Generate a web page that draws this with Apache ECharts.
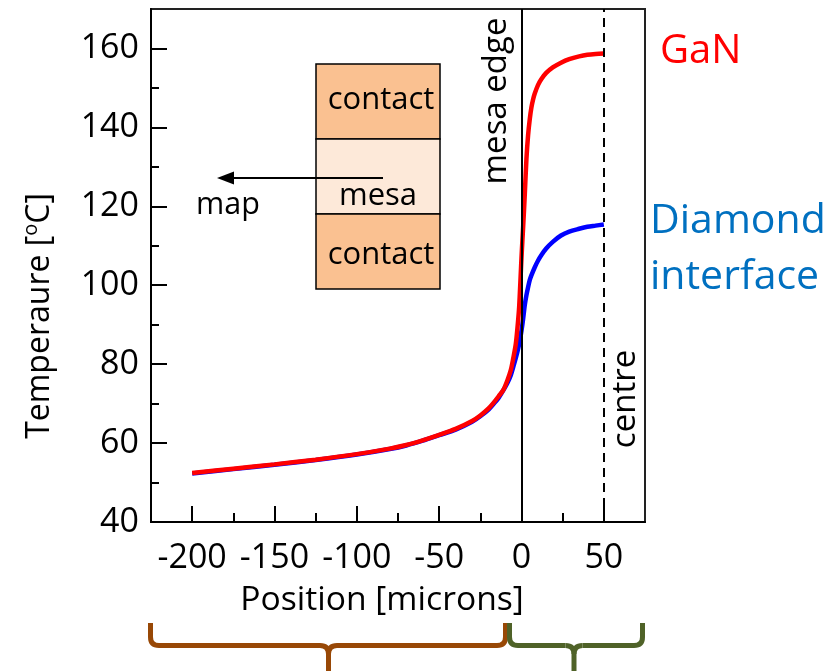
<!DOCTYPE html>
<html>
<head>
<meta charset="utf-8">
<script src="https://cdn.jsdelivr.net/npm/echarts@6/dist/echarts.min.js"></script>
<style>
  html, body { margin: 0; padding: 0; background: #fff; }
  #chart { width: 840px; height: 671px; }
</style>
</head>
<body>
<div id="chart"></div>
<script>
// Temperature profile across the mesa, from the contact region to the device centre
const posGaN = [-200, -175, -150, -125, -100, -80, -70, -60, -50, -40, -30, -25, -20, -17, -14, -11, -8.5, -6.5, -5, -3.5, -2.5, -1.5, -1, -0.5, 0, 0.5, 1, 1.5, 2, 3, 4, 5, 6, 7, 8, 10, 12, 15, 19, 24, 29, 35, 40, 45, 50];
const tempGaN = [52.4, 53.5, 54.6, 55.8, 57.2, 58.6, 59.5, 60.7, 62.1, 63.6, 65.6, 67.0, 68.8, 70.2, 71.8, 73.5, 76.0, 78.5, 81.5, 85.0, 89.0, 94.0, 98.0, 102.5, 107.0, 111.0, 114.8, 118.8, 123.0, 132.0, 138.0, 142.0, 145.0, 147.0, 148.5, 150.7, 152.2, 153.8, 155.2, 156.4, 157.3, 158.0, 158.4, 158.6, 158.7];

const posDiamond = [-200, -175, -150, -125, -100, -80, -70, -60, -50, -40, -30, -25, -20, -17, -14, -11, -8.5, -6.5, -5, -3.5, -2, -1, 0, 1, 2, 3, 4, 5, 6, 8, 10, 12, 15, 19, 24, 29, 35, 40, 45, 50];
const tempDiamond = [52.3, 53.4, 54.5, 55.7, 57.1, 58.5, 59.4, 60.6, 62.0, 63.4, 65.4, 66.8, 68.5, 69.9, 71.4, 73.4, 75.3, 77.2, 79.3, 81.5, 84.0, 86.0, 88.5, 91.5, 95.0, 97.5, 99.5, 101.3, 102.5, 104.5, 106.2, 107.6, 109.3, 111.0, 112.6, 113.6, 114.3, 114.8, 115.1, 115.4];

const xMajorTicks = [-200, -150, -100, -50, 0, 50];
const xMinorTicks = [-175, -125, -75, -25, 25];
const yMajorTicks = [40, 60, 80, 100, 120, 140, 160];
const yMinorTicks = [50, 70, 90, 110, 130, 150];
const mesaEdge = 0;
const centre = 50;

const FONT = '"Open Sans", Lato, sans-serif';

const zip = (xs, ys) => xs.map((x, i) => [x, ys[i]]);

const chart = echarts.init(document.getElementById('chart'), null, { renderer: 'canvas' });

const baseX = { type: 'value', min: -225, max: 75, position: 'bottom', splitLine: { show: false } };
const baseY = { type: 'value', min: 40, max: 170, position: 'left', splitLine: { show: false } };

// A curly brace opening upwards: arms at x0 and x1, point at xm
function brace(x0, xm, x1, color) {
  const top = 623, mid = 645.5, bottom = 671, r = 8.5;
  const st = { stroke: color, lineWidth: 5, fill: 'none', lineCap: 'butt' };
  const seg = (pts) => ({ type: 'polyline', shape: { points: pts }, style: st, z: 11 });
  const curve = (ax, ay, cx, cy, bx, by) => ({
    type: 'bezierCurve', shape: { x1: ax, y1: ay, cpx1: cx, cpy1: cy, x2: bx, y2: by }, style: st, z: 11
  });
  return [
    seg([[x0, top], [x0, mid - r]]),
    curve(x0, mid - r, x0, mid, x0 + r, mid),
    seg([[x0 + r, mid], [xm - r, mid]]),
    curve(xm - r, mid, xm, mid, xm, mid + r),
    seg([[xm, mid + r], [xm, bottom]]),
    curve(xm, mid + r, xm, mid, xm + r, mid),
    seg([[xm + r, mid], [x1 - r, mid]]),
    curve(x1 - r, mid, x1, mid, x1, mid - r),
    seg([[x1, mid - r], [x1, top]])
  ];
}

// Plain text element; opts may carry rotation, scaleX and alignment
function txt(x, y, text, size, color, opts) {
  opts = opts || {};
  return {
    type: 'text', x: x, y: y, z: 11,
    rotation: opts.rotation || 0,
    scaleX: opts.scaleX || 1,
    style: {
      text: text, font: size + 'px ' + FONT, fill: color,
      textAlign: opts.align || 'center', textVerticalAlign: 'middle'
    }
  };
}

const option = {
  backgroundColor: '#fff',
  animation: false,
  grid: {
    left: 151, right: 195, top: 9, bottom: 149,
    show: true, borderColor: '#222', borderWidth: 2, backgroundColor: 'transparent'
  },
  xAxis: [
    Object.assign({}, baseX, {
      axisLine: { onZero: false, lineStyle: { color: '#000', width: 2 } },
      axisTick: { inside: true, length: 16, lineStyle: { color: '#000', width: 2 }, customValues: xMajorTicks },
      axisLabel: { customValues: xMajorTicks, fontSize: 34, color: '#000', fontFamily: FONT, margin: 19 }
    }),
    Object.assign({}, baseX, {
      axisLine: { show: false, onZero: false },
      axisTick: { inside: true, length: 9, lineStyle: { color: '#000', width: 2 }, customValues: xMinorTicks },
      axisLabel: { show: false }
    })
  ],
  yAxis: [
    Object.assign({}, baseY, {
      axisLine: { onZero: false, lineStyle: { color: '#000', width: 2 } },
      axisTick: { inside: true, length: 16, lineStyle: { color: '#000', width: 2 }, customValues: yMajorTicks },
      axisLabel: { customValues: yMajorTicks, fontSize: 34, color: '#000', fontFamily: FONT, margin: 12 }
    }),
    Object.assign({}, baseY, {
      axisLine: { show: false, onZero: false },
      axisTick: { inside: true, length: 8, lineStyle: { color: '#000', width: 2 }, customValues: yMinorTicks },
      axisLabel: { show: false }
    })
  ],
  series: [
    {
      name: 'Diamond interface', type: 'line', data: zip(posDiamond, tempDiamond),
      showSymbol: false, smooth: 0.3,
      lineStyle: { color: '#0000FF', width: 4.5 }, z: 2
    },
    {
      name: 'GaN', type: 'line', data: zip(posGaN, tempGaN),
      showSymbol: false, smooth: 0.3,
      lineStyle: { color: '#FF0000', width: 4.5 }, z: 3
    },
    {
      name: 'markers', type: 'line', data: [], z: 4,
      markLine: {
        silent: true, symbol: ['none', 'none'], label: { show: false },
        data: [
          { xAxis: mesaEdge, lineStyle: { color: '#000', width: 2, type: 'solid' } },
          { xAxis: centre, lineStyle: { color: '#000', width: 2, type: [9, 6] } }
        ]
      }
    }
  ],
  graphic: [
    // inset: contact / mesa / contact
    { type: 'rect', shape: { x: 316, y: 64, width: 124, height: 75 }, style: { fill: '#FAC191', stroke: '#000', lineWidth: 1.5 }, z: 10 },
    { type: 'rect', shape: { x: 316, y: 139, width: 124, height: 75 }, style: { fill: '#FDE9D9', stroke: '#000', lineWidth: 1.5 }, z: 10 },
    { type: 'rect', shape: { x: 316, y: 214, width: 124, height: 75 }, style: { fill: '#FAC191', stroke: '#000', lineWidth: 1.5 }, z: 10 },
    txt(381, 100, 'contact', 31, '#000'),
    txt(378, 196, 'mesa', 31, '#000'),
    txt(381, 255, 'contact', 31, '#000'),
    // arrow towards the map side
    { type: 'line', shape: { x1: 383, y1: 178, x2: 232, y2: 178 }, style: { stroke: '#000', lineWidth: 2 }, z: 11 },
    { type: 'polygon', shape: { points: [[217, 178], [234, 171.5], [234, 184.5]] }, style: { fill: '#000' }, z: 11 },
    txt(228, 205, 'map', 30.5, '#000'),
    // vertical annotations
    txt(497, 101, 'mesa edge', 33, '#000', { rotation: Math.PI / 2 }),
    txt(626, 399, 'centre', 33, '#000', { rotation: Math.PI / 2 }),
    // series labels
    txt(660, 52, 'GaN', 40, '#FF0000', { align: 'left' }),
    txt(650, 221, 'Diamond', 41, '#0070C0', { align: 'left' }),
    txt(650, 277, 'interface', 41, '#0070C0', { align: 'left' }),
    // axis titles
    txt(382, 601, 'Position [microns]', 33, '#000', { scaleX: 1.02 }),
    {
      type: 'text', x: 40, y: 316, rotation: Math.PI / 2, z: 11,
      style: {
        text: '{n|Temperaure [}{s|o}{n|C]}', fill: '#000', textAlign: 'center', textVerticalAlign: 'middle',
        rich: {
          n: { fontSize: 32, fontFamily: FONT, fill: '#000', lineHeight: 38 },
          s: { fontSize: 20, fontFamily: FONT, fill: '#000', lineHeight: 38, verticalAlign: 'top' }
        }
      }
    }
  ].concat(brace(150.5, 328.5, 505.5, '#984806'), brace(509.5, 574, 642.5, '#4F6228'))
};

chart.setOption(option);
</script>
</body>
</html>
